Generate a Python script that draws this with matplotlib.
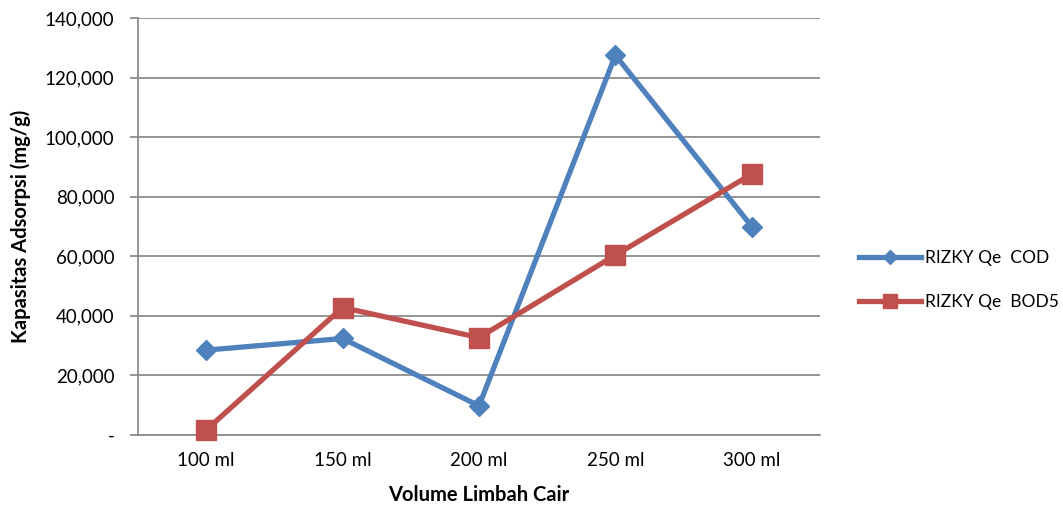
import matplotlib
matplotlib.use('Agg')
import matplotlib.pyplot as plt
import numpy as np

plt.rcParams['font.family'] = ['Lato', 'DejaVu Sans']

volumes = ['100 ml', '150 ml', '200 ml', '250 ml', '300 ml']
qe_cod = [28500, 32400, 9800, 127500, 70000]
qe_bod5 = [1700, 42800, 32700, 60400, 87600]

blue = '#4F81BD'
red = '#C0504D'
grid = '#8C8C8C'

fig = plt.figure(figsize=(10.63, 5.08), dpi=100)
ax = fig.add_axes([138 / 1063, 73 / 508, 682 / 1063, 417 / 508])

x = np.arange(len(volumes))
ax.plot(x, qe_cod, color=blue, lw=3.8, marker='D', ms=10.5, label='RIZKY Qe  COD',
        zorder=3, clip_on=False)
ax.plot(x, qe_bod5, color=red, lw=3.8, marker='s', ms=14, label='RIZKY Qe  BOD5',
        zorder=3, clip_on=False)

ax.set_xlim(-0.5, len(volumes) - 0.5)
ax.set_ylim(0, 140000)
ax.set_yticks(np.arange(0, 140001, 20000))
ax.set_yticklabels(['-'] + ['{:,}'.format(v) for v in range(20000, 140001, 20000)])
ax.set_xticks(x)
ax.set_xticklabels(volumes)

ax.grid(axis='y', color=grid, lw=1.3)
ax.set_axisbelow(True)
for s in ['top', 'right']:
    ax.spines[s].set_visible(False)
for s in ['left', 'bottom']:
    ax.spines[s].set_color(grid)
    ax.spines[s].set_linewidth(1.3)
ax.tick_params(axis='y', length=6, color=grid, width=1.3, labelsize=13.5, pad=11)
ax.tick_params(axis='x', length=0, labelsize=13.5, pad=12)

ax.set_xlabel('Volume Limbah Cair', fontsize=14.5, fontweight='bold', labelpad=12)
ax.set_ylabel('Kapasitas Adsorpsi (mg/g)', fontsize=14.5, fontweight='bold', labelpad=10)

ax.legend(loc='center left', bbox_to_anchor=(852 / 1063, 228 / 508), bbox_transform=fig.transFigure,
          frameon=False, fontsize=12.5, handlelength=3.6, handletextpad=0.2, labelspacing=1.6,
          markerscale=0.7, borderaxespad=0)

fig.savefig('out.png', dpi=100)
